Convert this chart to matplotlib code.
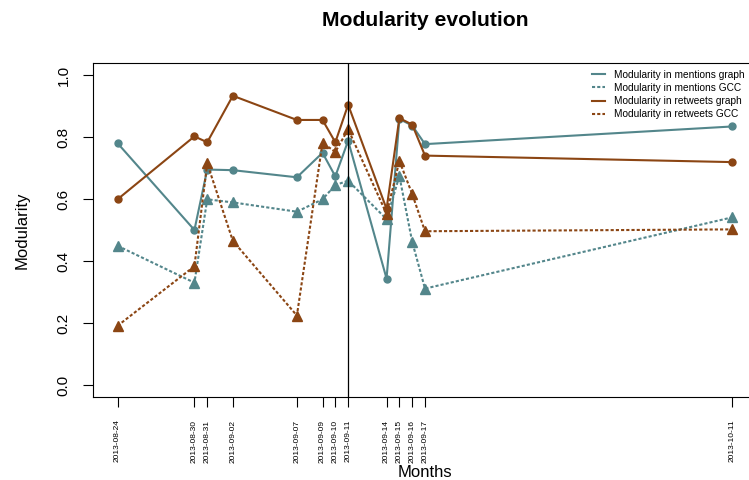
#!/usr/bin/env python
#
# Modularity evolution of the mentions / retweets graphs and their GCC
#

import numpy as np
import matplotlib.pyplot as plt

plt.rcParams['font.family'] = ['Liberation Sans', 'DejaVu Sans']

################################################################################
# Data
################################################################################
dates = ['2013-08-24', '2013-08-30', '2013-08-31', '2013-09-02', '2013-09-07',
         '2013-09-09', '2013-09-10', '2013-09-11', '2013-09-14', '2013-09-15',
         '2013-09-16', '2013-09-17', '2013-10-11']

mentions_graph = [0.780, 0.500, 0.695, 0.693, 0.670, 0.749, 0.673, 0.788,
                  0.343, 0.858, 0.837, 0.777, 0.834]
retweets_graph = [0.599, 0.802, 0.783, 0.933, 0.855, 0.855, 0.783, 0.904,
                  0.568, 0.861, 0.840, 0.740, 0.719]
mentions_gcc = [0.449, 0.330, 0.599, 0.589, 0.559, 0.599, 0.645, 0.659,
                0.535, 0.674, 0.462, 0.311, 0.541]
retweets_gcc = [0.191, 0.383, 0.715, 0.465, 0.224, 0.781, 0.752, 0.825,
                0.552, 0.723, 0.616, 0.496, 0.502]

labels = ['Modularity in mentions graph', 'Modularity in mentions GCC',
          'Modularity in retweets graph', 'Modularity in retweets GCC']

event_date = '2013-09-11'

teal = '#53868B'
brown = '#8B4513'

################################################################################
# Plot
################################################################################
t = np.array(dates, dtype='datetime64[D]')
W, H = 749, 480
fig = plt.figure(figsize=(W/100, H/100), dpi=100)

# plot region as in R (right edge runs past the device)
x0, x1, y0, y1 = 93, 757, 62.6, 397.4
ax = fig.add_axes([x0/W, 1 - y1/H, (x1-x0)/W, (y1-y0)/H])

dots = (0, (1.5, 1.0))
ax.plot(t, mentions_graph, color=teal, lw=1.5, marker='o', ms=5, label=labels[0])
ax.plot(t, mentions_gcc, color=teal, lw=1.5, ls=dots, marker='^', ms=7.5,
        label=labels[1])
ax.plot(t, retweets_graph, color=brown, lw=1.5, marker='o', ms=5, label=labels[2])
ax.plot(t, retweets_gcc, color=brown, lw=1.5, ls=dots, marker='^', ms=7.5,
        label=labels[3])

ax.axvline(np.datetime64(event_date), color='black', lw=0.9)

span = (t[-1] - t[0]).astype(float)
pad = np.timedelta64(int(round(span*0.04*24)), 'h')
ax.set_xlim(t[0] - pad, t[-1] + pad)
ax.set_ylim(-0.04, 1.04)

ax.set_xticks(t)
ax.set_xticklabels(dates, rotation=90, fontsize=6)
ax.set_yticks(np.arange(0, 1.01, 0.2))
ax.set_yticklabels(['{:.1f}'.format(v) for v in np.arange(0, 1.01, 0.2)],
                   rotation=90, va='center', fontsize=11)
ax.tick_params(axis='x', direction='out', length=7, width=0.8, pad=9)
ax.tick_params(axis='y', direction='out', length=7, width=0.8, pad=9)
for s in ax.spines.values():
    s.set_linewidth(0.8)

leg = ax.legend(loc='upper left', bbox_to_anchor=((592-x0)/(x1-x0), (y1-70)/(y1-y0)),
                frameon=False, fontsize=7.3, handlelength=1.3, handletextpad=0.85,
                labelspacing=0.3, borderpad=0, borderaxespad=0, markerscale=0)
for h in leg.legend_handles:
    h.set_marker('')

fig.text(425/W, 1 - 20/H, 'Modularity evolution', ha='center', va='center',
         fontsize=15.2, fontweight='bold')
fig.text(22/W, 1 - 230/H, 'Modularity', ha='center', va='center', rotation=90,
         fontsize=12)
fig.text(425/W, 1 - 477/H, 'Months', ha='center', va='baseline', fontsize=12)

fig.savefig('out.png', dpi=100)
